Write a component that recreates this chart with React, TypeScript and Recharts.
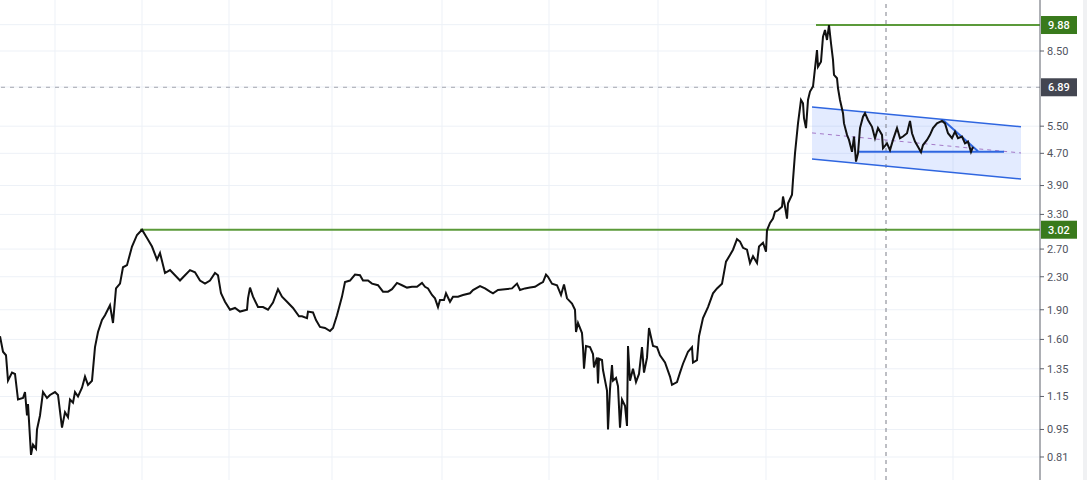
import {
  ComposedChart, Line, Area, XAxis, YAxis, CartesianGrid, ReferenceLine,
} from "recharts";

// bar index (0..1040) and close price
const bars = [
  0, 3, 6, 8, 12, 15, 18, 23, 25, 27, 28, 31, 33, 36, 37, 40, 43, 47, 50, 55,
  58, 62, 65, 68, 70, 73, 75, 78, 82, 85, 88, 92, 95, 98, 102, 105, 110, 113, 116, 120,
  123, 127, 132, 137, 142, 147, 152, 157, 160, 165, 170, 175, 180, 185, 190, 195, 200, 205, 210, 215,
  218, 221, 225, 230, 235, 240, 247, 248, 250, 253, 258, 263, 268, 273, 278, 282, 287, 293, 299, 302,
  307, 308, 313, 316, 320, 325, 330, 333, 337, 342, 345, 350, 355, 360, 363, 368, 372, 378, 383, 388,
  392, 397, 402, 407, 412, 417, 422, 425, 428, 432, 435, 438, 440, 444, 446, 450, 453, 458, 463, 470,
  473, 480, 485, 490, 493, 498, 505, 512, 517, 520, 525, 530, 535, 540, 543, 546, 548, 552, 557, 561,
  564, 567, 572, 575, 576, 578, 582, 583, 584, 586, 590, 593, 594, 597, 598, 599, 602, 603, 607, 608,
  610, 612, 613, 616, 618, 620, 622, 625, 627, 628, 630, 633, 636, 639, 642, 644, 647, 649, 653, 657,
  660, 665, 670, 672, 677, 680, 683, 688, 692, 693, 697, 699, 703, 708, 713, 717, 722, 726, 730, 733,
  737, 740, 743, 747, 750, 753, 757, 759, 763, 766, 767, 770, 773, 775, 778, 782, 783, 785, 787, 788,
  792, 793, 795, 798, 801, 803, 804, 806, 808, 810, 813, 815, 817, 818, 821, 823, 825, 827, 829, 831,
  833, 834, 837, 838, 840, 843, 844, 847, 849, 852, 854, 856, 858, 860, 863, 865, 868, 872, 875, 878,
  882, 883, 887, 890, 893, 897, 900, 903, 907, 910, 912, 915, 918, 921, 923, 927, 930, 933, 937, 942,
  945, 948, 952, 955, 958, 962, 965, 968, 971, 973,
];
const closes = [
  1.63, 1.49, 1.46, 1.26, 1.32, 1.31, 1.13, 1.14, 1.18, 1.03, 1.1, 0.82, 0.87, 0.85, 0.95, 1.03, 1.18, 1.14, 1.16, 1.18,
  1.16, 0.96, 1.05, 1.02, 1.13, 1.11, 1.18, 1.15, 1.21, 1.29, 1.23, 1.26, 1.53, 1.67, 1.79, 1.84, 1.95, 1.76, 2.15, 2.21,
  2.43, 2.46, 2.74, 2.93, 3.02, 2.88, 2.74, 2.54, 2.64, 2.35, 2.39, 2.32, 2.25, 2.32, 2.39, 2.36, 2.25, 2.21, 2.25, 2.35,
  2.32, 2.09, 1.99, 1.9, 1.92, 1.88, 1.9, 2.03, 2.16, 2.05, 1.93, 1.93, 1.9, 1.98, 2.14, 2.05, 1.99, 1.92, 1.83, 1.83,
  1.81, 1.88, 1.87, 1.79, 1.72, 1.71, 1.68, 1.71, 1.84, 2.05, 2.23, 2.25, 2.33, 2.32, 2.25, 2.25, 2.21, 2.19, 2.11, 2.11,
  2.14, 2.22, 2.19, 2.16, 2.17, 2.17, 2.22, 2.17, 2.15, 2.07, 2.03, 1.93, 2.01, 2.01, 2.09, 1.99, 2.05, 2.05, 2.07, 2.09,
  2.13, 2.18, 2.15, 2.11, 2.09, 2.13, 2.14, 2.15, 2.21, 2.13, 2.15, 2.16, 2.17, 2.21, 2.23, 2.33, 2.3, 2.21, 2.19, 2.07,
  2.2, 2.03, 1.97, 1.9, 1.67, 1.76, 1.66, 1.53, 1.35, 1.54, 1.53, 1.47, 1.36, 1.44, 1.24, 1.43, 1.42, 1.34, 1.19, 0.95,
  1.2, 1.38, 1.26, 1.28, 1.22, 0.96, 1.13, 1.09, 0.97, 1.54, 1.26, 1.35, 1.25, 1.31, 1.53, 1.32, 1.44, 1.71, 1.54, 1.53,
  1.46, 1.4, 1.29, 1.23, 1.25, 1.32, 1.39, 1.49, 1.53, 1.4, 1.42, 1.63, 1.81, 1.93, 2.09, 2.15, 2.21, 2.51, 2.61, 2.69,
  2.86, 2.82, 2.72, 2.69, 2.49, 2.59, 2.49, 2.74, 2.8, 2.66, 3.01, 3.14, 3.22, 3.35, 3.38, 3.45, 3.66, 3.45, 3.22, 3.52,
  3.7, 4.03, 4.7, 5.59, 6.4, 6.28, 5.76, 5.44, 6.4, 6.72, 6.92, 7.69, 8.55, 7.76, 7.99, 9.23, 9.6, 9.06, 9.88, 8.89,
  8.07, 7.4, 7.26, 6.85, 6.4, 5.93, 5.59, 5.23, 5.08, 4.74, 5.18, 4.48, 4.7, 5.44, 5.81, 5.93, 5.7, 5.48, 5.13, 5.44,
  5.23, 4.84, 4.98, 4.79, 5.08, 5.44, 5.13, 5.18, 5.28, 5.67, 5.28, 5.03, 4.88, 4.73, 4.93, 5.08, 5.23, 5.44, 5.59, 5.67,
  5.59, 5.28, 5.13, 5.33, 5.13, 5.18, 4.98, 5.03, 4.74, 4.88,
];

// price scale
const priceTicks = [0.81, 0.95, 1.15, 1.35, 1.6, 1.9, 2.3, 2.7, 3.3, 3.9, 4.7, 5.5, 8.5];
const gridPrices = [0.81, 0.95, 1.15, 1.35, 1.6, 1.9, 2.3, 2.7, 3.3, 3.9, 4.7, 5.5, 6.9, 8.5, 9.9];
const gridBars = [55, 142, 229, 332, 442, 549, 658, 766, 875, 953];

// drawings
const highLevel = 9.88;
const highFrom = 816;
const breakLevel = 3.02;
const breakFrom = 140;
const crossPrice = 6.89;
const crossBar = 886;
const channelBars = [812, 1021];
const channelUpper = [6.15, 5.48];
const channelLower = [4.55, 4.05];
const channelMid = [5.29, 4.71];
const baseBars = [859, 1004];
const baseLevel = 4.74;
const wedgeBars = [943, 978];
const wedgeValues = [5.7, 4.76];

const rows: any[] = bars.map((x, i) => ({ x, close: closes[i] }));
channelBars.forEach((x, i) => rows.push({ x, band: [channelLower[i], channelUpper[i]] }));
rows.sort((a, b) => a.x - b.x);

const Badge = ({ viewBox, text, fill }: any) => {
  const left = viewBox.x + viewBox.width + 1;
  return (
    <g>
      <rect x={left} y={viewBox.y - 9} width={36} height={18} fill={fill} />
      <text x={left + 7} y={viewBox.y} dy="0.36em" fill="#ffffff" fontSize={11} fontWeight={500}>
        {text}
      </text>
    </g>
  );
};

const BLUE = "#2f66e0";

export default function App() {
  return (
    <div style={{ position: "fixed", left: 0, top: 0, width: 1087, height: 480, background: "#ffffff", fontFamily: "Roboto, sans-serif" }}>
      <div style={{ position: "absolute", left: 1083, top: 0, width: 4, height: 480, background: "#f0f1f3" }} />
      <ComposedChart width={1087} height={480} data={rows} margin={{ top: 0, right: 0, bottom: 0, left: 0 }}>
        <CartesianGrid stroke="#edf1f7" horizontalValues={gridPrices} verticalValues={gridBars} />
        <XAxis type="number" dataKey="x" domain={[0, 1040]} allowDataOverflow hide />
        <YAxis
          orientation="right"
          width={47}
          scale="log"
          domain={[0.709, 11.42]}
          allowDataOverflow
          ticks={priceTicks}
          interval={0}
          tickFormatter={(v) => Number(v).toFixed(2)}
          tick={{ fill: "#50535e", fontSize: 11 }}
          tickSize={4}
          tickMargin={3}
          axisLine={{ stroke: "#5d606b" }}
          tickLine={{ stroke: "#5d606b" }}
        />
        <Area
          dataKey="band"
          type="linear"
          stroke="none"
          fill="#2962ff"
          fillOpacity={0.13}
          connectNulls
          isAnimationActive={false}
        />
        <ReferenceLine
          y={crossPrice}
          stroke="#a3a6af"
          strokeDasharray="4 5"
          label={(p: any) => <Badge {...p} text={crossPrice.toFixed(2)} fill="#434651" />}
        />
        <ReferenceLine x={crossBar} stroke="#7c7f89" strokeDasharray="4 4" />
        <ReferenceLine
          segment={[{ x: breakFrom, y: breakLevel }, { x: 1040, y: breakLevel }]}
          stroke="#5b9a3a"
          strokeWidth={2}
          ifOverflow="visible"
          label={(p: any) => <Badge {...p} text={breakLevel.toFixed(2)} fill="#397a1c" />}
        />
        <ReferenceLine
          segment={[{ x: highFrom, y: highLevel }, { x: 1040, y: highLevel }]}
          stroke="#5b9a3a"
          strokeWidth={2}
          ifOverflow="visible"
          label={(p: any) => <Badge {...p} text={highLevel.toFixed(2)} fill="#397a1c" />}
        />
        <ReferenceLine
          segment={[{ x: channelBars[0], y: channelUpper[0] }, { x: channelBars[1], y: channelUpper[1] }]}
          stroke={BLUE}
          strokeWidth={1.5}
          ifOverflow="visible"
        />
        <ReferenceLine
          segment={[{ x: channelBars[0], y: channelLower[0] }, { x: channelBars[1], y: channelLower[1] }]}
          stroke={BLUE}
          strokeWidth={1.5}
          ifOverflow="visible"
        />
        <ReferenceLine
          segment={[{ x: channelBars[0], y: channelMid[0] }, { x: channelBars[1], y: channelMid[1] }]}
          stroke="#a57ac8"
          strokeDasharray="4 4"
          ifOverflow="visible"
        />
        <ReferenceLine
          segment={[{ x: baseBars[0], y: baseLevel }, { x: baseBars[1], y: baseLevel }]}
          stroke={BLUE}
          strokeWidth={2}
          ifOverflow="visible"
        />
        <ReferenceLine
          segment={[{ x: wedgeBars[0], y: wedgeValues[0] }, { x: wedgeBars[1], y: wedgeValues[1] }]}
          stroke={BLUE}
          strokeWidth={2}
          ifOverflow="visible"
        />
        <Line
          dataKey="close"
          type="linear"
          stroke="#111111"
          strokeWidth={2}
          dot={false}
          activeDot={false}
          connectNulls
          isAnimationActive={false}
        />
      </ComposedChart>
    </div>
  );
}
